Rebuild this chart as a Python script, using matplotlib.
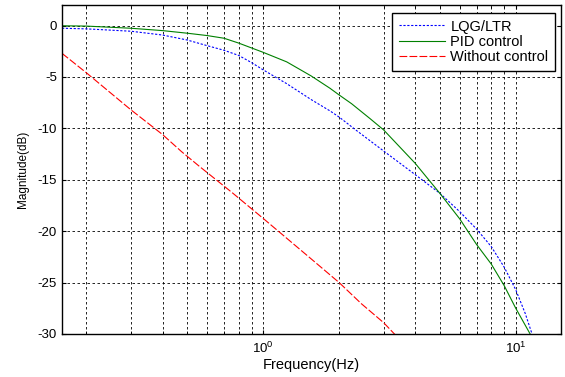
import matplotlib
matplotlib.use("Agg")
import matplotlib.pyplot as plt
from matplotlib.ticker import LogLocator, NullFormatter

plt.rcParams['font.family'] = ['Liberation Sans', 'DejaVu Sans']
plt.rcParams['mathtext.fontset'] = 'custom'
plt.rcParams['mathtext.rm'] = 'Liberation Sans'
plt.rcParams['axes.unicode_minus'] = False

# LQG/LTR
f_lqg = [0.16, 0.2, 0.3, 0.4, 0.5, 0.6, 0.7, 0.8, 0.9, 1.0, 1.24, 1.55, 1.84, 2.0, 2.34, 3.0,
         4.0, 5.0, 6.0, 7.0, 8.0, 9.0, 10.0, 10.9, 11.6]
m_lqg = [-0.26, -0.32, -0.55, -0.92, -1.4, -1.95, -2.4, -2.9, -3.6, -4.3, -5.65, -7.2, -8.3, -8.9,
         -10.2, -12.2, -14.5, -16.3, -18.1, -19.8, -21.5, -23.5, -25.7, -28.0, -30.0]

# PID control
f_pid = [0.16, 0.2, 0.3, 0.4, 0.5, 0.6, 0.7, 0.8, 1.0, 1.24, 1.55, 1.84, 2.0, 2.24, 2.65, 3.0,
         4.0, 5.0, 6.0, 7.0, 8.0, 9.0, 10.0, 11.4]
m_pid = [-0.02, -0.05, -0.26, -0.49, -0.74, -0.97, -1.23, -1.7, -2.6, -3.53, -4.9, -6.1, -6.75,
         -7.6, -9.05, -10.15, -13.4, -16.3, -18.8, -21.3, -23.2, -25.3, -27.5, -30.0]

# Without control
f_wo = [0.16, 0.2, 0.3, 0.4, 0.475, 0.56, 0.75, 1.0, 1.5, 2.0, 2.45, 3.0, 3.4]
m_wo = [-2.7, -4.6, -8.2, -10.6, -12.25, -13.7, -16.2, -18.75, -22.4, -25.0, -27.06, -28.9, -30.3]

fig = plt.figure(figsize=(5.65, 3.77), dpi=100)
ax = fig.add_axes([0.1097, 0.1141, 0.8832, 0.8726])

ax.plot(f_lqg, m_lqg, color=(0, 0, 1), lw=0.8, ls=(0, (2, 1.5)), label='LQG/LTR')
ax.plot(f_pid, m_pid, color=(0, 0.5, 0), lw=0.8, ls='-', label='PID control')
ax.plot(f_wo, m_wo, color=(1, 0, 0), lw=0.8, ls=(0, (7, 2)), label='Without control')

ax.set_xscale('log')
ax.set_xlim(0.16, 15.1)
ax.set_ylim(-30, 2)
ax.set_yticks([0, -5, -10, -15, -20, -25, -30])
ax.xaxis.set_major_locator(LogLocator(base=10))
ax.xaxis.set_minor_locator(LogLocator(base=10, subs=range(2, 10)))
ax.xaxis.set_minor_formatter(NullFormatter())

ax.grid(True, which='major', axis='both', color='black', ls=(0, (3, 3)), lw=0.6)
ax.grid(True, which='minor', axis='x', color='black', ls=(0, (3, 3)), lw=0.6)

ax.tick_params(which='both', direction='in', top=True, right=True, labelsize=9.5)
ax.tick_params(axis='x', which='major', pad=5)
ax.tick_params(which='major', length=3)
ax.tick_params(which='minor', length=2)
for s in ax.spines.values():
    s.set_linewidth(1.0)

ax.set_xlabel('Frequency(Hz)', fontsize=10.5, labelpad=1)
ax.set_ylabel('Magnitude(dB)', fontsize=8.5, labelpad=6)

leg = ax.legend(loc='upper right', bbox_to_anchor=(555 / 565, 1 - 13 / 377),
                bbox_transform=fig.transFigure, fontsize=10.5, frameon=True, fancybox=False,
                edgecolor='black', framealpha=1, borderpad=0.45, labelspacing=0.1,
                handlelength=3.2, handletextpad=0.35, borderaxespad=0)
leg.get_frame().set_linewidth(1.0)

fig.savefig('out.png', dpi=100)
